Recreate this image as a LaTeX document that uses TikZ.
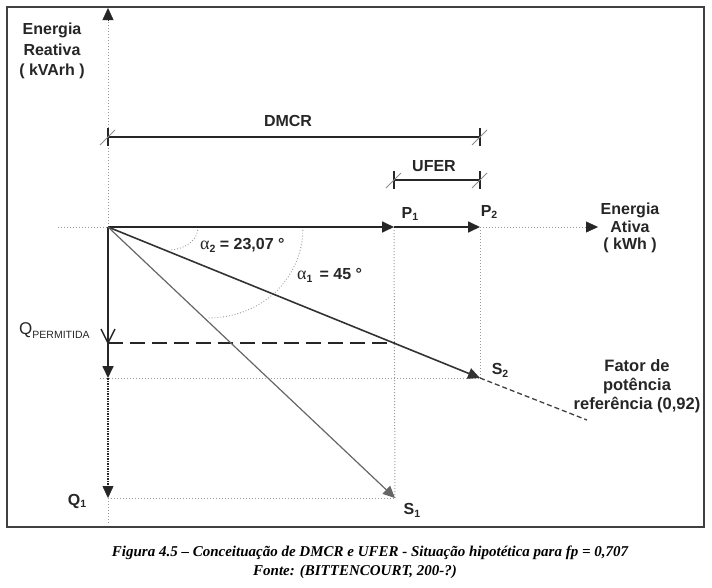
\documentclass[tikz,border=0pt]{standalone}
\usepackage{fontspec}
\setmainfont{Liberation Serif}
\newfontfamily\lab{Liberation Sans}
\usetikzlibrary{arrows.meta,calc}
\newcommand\sbs[1]{\raisebox{-0.35ex}{\fontsize{10.5}{11}\selectfont #1}}
\begin{document}
\begin{tikzpicture}[x=1pt,y=-1pt,
  lbl/.style={font=\lab\bfseries\fontsize{16}{18}\selectfont, text=black!85, inner sep=0pt, align=center},
  guide/.style={draw=black!40, dotted, line width=1pt},
  tip/.style={-{Triangle[length=12pt,width=11pt]}},
  mainline/.style={draw=black!85, line width=1.7pt},
  dimline/.style={draw=black!85, line width=1.5pt},
  tickv/.style={draw=black!85, line width=1.2pt},
  ticks/.style={draw=black!45, line width=1pt},
  anglearc/.style={draw=black!40, dotted, line width=0.9pt}
]
\useasboundingbox (0,0) rectangle (712,587);
% frame
\draw[draw=black!75, line width=1.5pt] (7,7) rectangle (704,527);

% coordinates
\coordinate (O) at (108,227);
\coordinate (P1) at (394,227);
\coordinate (P2) at (480,227);
\coordinate (S2) at (480,378);
\coordinate (S1) at (395,498);
\coordinate (Qr) at (108,378);
\coordinate (Qp) at (108,343);
\coordinate (Q1) at (108,498);
\coordinate (top) at (108,8);
\coordinate (topb) at (108,20);
\coordinate (bot) at (108,523);
\coordinate (xl) at (58,227);
\coordinate (xr) at (598,227);
\coordinate (xrb) at (586,227);
\coordinate (ext) at (587,420);
\coordinate (Dl) at (108,137);
\coordinate (Dr) at (480,137);
\coordinate (Ul) at (394,180);
\coordinate (Ur) at (480,180);
\coordinate (QpR) at (395,343);
\coordinate (rowL) at (100,378);
\coordinate (Q1b) at (108,486);

% guide lines
\draw[guide] (xl) -- (O);
\draw[guide] (O) -- (topb);
\draw[draw=black!85, tip] (topb) -- (top);
\draw[guide] (P2) -- (xrb);
\draw[draw=black!85, tip] (xrb) -- (xr);
\draw[guide] (P1) -- (S1);
\draw[guide] (P2) -- (S2);
\draw[guide] (rowL) -- (S2);
\draw[guide] (Q1) -- (S1);
\draw[guide] (Q1) -- (bot);

% angle arcs
\draw[anglearc] (198,227) .. controls (198,240) and (186,249) .. (170,250);
\draw[anglearc] (303,227) .. controls (303,280) and (260,318) .. (208,318);

% dimension lines
\draw[dimline] (Dl) -- (Dr);
\draw[dimline] (Ul) -- (Ur);
\foreach \c in {Dl,Dr,Ul,Ur}{
  \draw[tickv] ($(\c)+(0,-9)$) -- ($(\c)+(0,9)$);
  \draw[ticks] ($(\c)+(-8,8)$) -- ($(\c)+(7,-7)$);
}

% permitted Q dashed
\draw[draw=black!85, line width=1.2pt, dash pattern=on 15pt off 7pt] (Qp) -- (QpR);
\draw[draw=black!85, line width=1.4pt] (101,329) -- (Qp) -- (115,329);

% main vectors
\draw[mainline, tip] (O) -- (P1);
\draw[mainline, tip] (P1) -- (P2);
\draw[mainline, tip] (O) -- (Qr);
\draw[draw=black!85, line width=1.5pt, densely dotted] (Qr) -- (Q1b);
\draw[draw=black!85, tip] (Q1b) -- (Q1);
\draw[draw=black!80, line width=1.6pt, tip] (O) -- (S2);
\draw[draw=black!60, line width=1.2pt, tip] (O) -- (S1);
\draw[draw=black!75, line width=1.3pt, dash pattern=on 5pt off 3pt] (S2) -- (ext);

% labels
\node[lbl, font=\lab\bfseries\fontsize{16}{20.5}\selectfont] (lq) at (52,51) {Energia\\Reativa\\( kVArh )};
\node[lbl, font=\lab\bfseries\fontsize{16}{17.5}\selectfont] (lp) at (630,228) {Energia\\Ativa\\( kWh )};
\node[lbl, font=\lab\bfseries\fontsize{16.5}{19}\selectfont] (lf) at (637,386) {Fator de\\potência\\referência (0,92)};
\node[lbl] (ldm) at (288,121) {DMCR};
\node[lbl] (luf) at (434,166) {UFER};
\node[lbl] (lp1) at (410,214) {P\sbs{1}};
\node[lbl] (lp2) at (489,212) {P\sbs{2}};
\node[lbl] (ls2) at (500,370) {S\sbs{2}};
\node[lbl] (ls1) at (412,510) {S\sbs{1}};
\node[lbl] (lq1) at (77,501) {Q\sbs{1}};
\node[lbl, anchor=west] (la2) at (200,245) {{\rmfamily\mdseries\fontsize{18}{18}\selectfont α}\sbs{2} = 23,07 °};
\node[lbl, anchor=west] (la1) at (297,275) {{\rmfamily\mdseries\fontsize{18}{18}\selectfont α}\sbs{1}\, = 45 °};
\node[lbl, anchor=west, font=\lab\fontsize{17}{17}\selectfont] (lqp) at (19,331) {Q\raisebox{-0.45ex}{\fontsize{10.5}{11}\selectfont PERMITIDA}};

% caption
\node[font=\bfseries\itshape\fontsize{15}{19}\selectfont, inner sep=0pt] (cap1) at (370,553)
  {Figura 4.5 – Conceituação de DMCR e UFER - Situação hipotética para fp = 0,707};
\node[font=\bfseries\itshape\fontsize{15}{19}\selectfont, inner sep=0pt] (cap2) at (355,572)
  {Fonte: (BITTENCOURT, 200-?)};
\end{tikzpicture}
\end{document}
